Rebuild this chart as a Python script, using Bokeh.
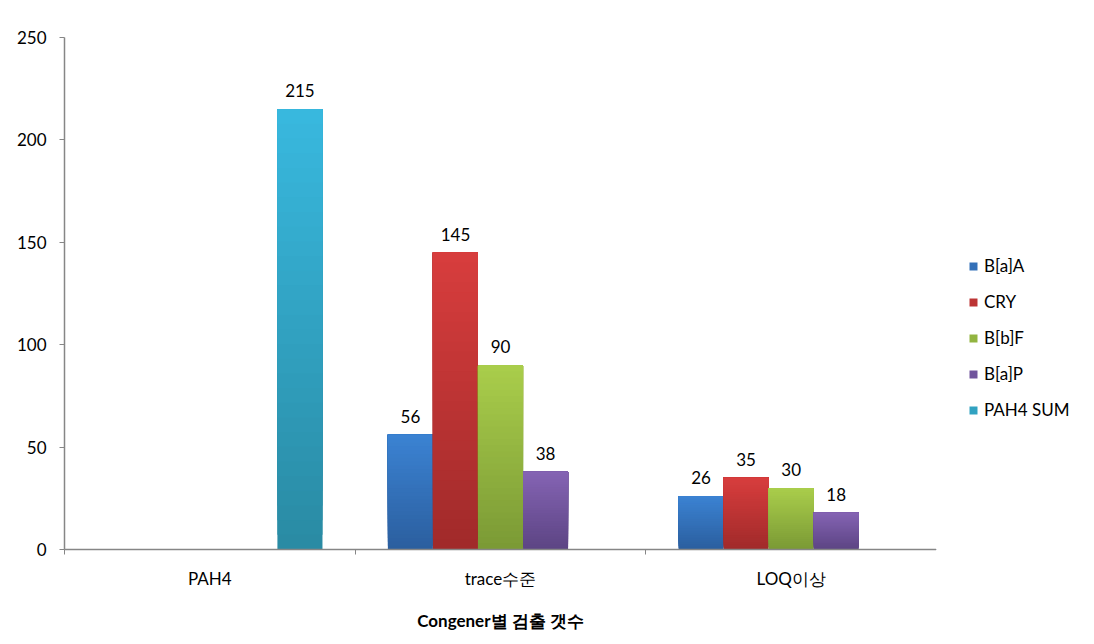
from bokeh.plotting import figure
from bokeh.models import (ColumnDataSource, Range1d, FixedTicker, LabelSet, Legend, LegendItem)
from bokeh.layouts import row
from bokeh.core.properties import value
from bokeh.embed import file_html
from bokeh.resources import INLINE

categories = ["PAH4", "trace수준", "LOQ이상"]
series = ["B[a]A", "CRY", "B[b]F", "B[a]P", "PAH4 SUM"]
values = {
    "B[a]A": [0, 56, 26],
    "CRY": [0, 145, 35],
    "B[b]F": [0, 90, 30],
    "B[a]P": [0, 38, 18],
    "PAH4 SUM": [215, 0, 0],
}
# (bottom colour, top colour) of each series' gradient
colors = {
    "B[a]A": ("#2b5f9f", "#3b82d2"),
    "CRY": ("#a12a2a", "#d73d3d"),
    "B[b]F": ("#7b9a35", "#a9cd4b"),
    "B[a]P": ("#5d4584", "#8463b3"),
    "PAH4 SUM": ("#2a8ba4", "#38b8de"),
}
y_ticks = [0, 50, 100, 150, 200, 250]

FONT = "Lato"
AXIS_GRAY = "#868686"

p = figure(width=936, height=644, output_backend="svg", toolbar_location=None,
           x_range=Range1d(0, len(categories)), y_range=Range1d(0, 250),
           min_border_left=64, min_border_right=0, min_border_top=37, min_border_bottom=95)
p.outline_line_color = None
p.xgrid.visible = False
p.ygrid.visible = False

# legend-only figure on the right
pl = figure(width=158, height=644, output_backend="svg", toolbar_location=None,
            x_range=Range1d(0, 1), y_range=Range1d(0, 1),
            min_border_left=0, min_border_right=0, min_border_top=0, min_border_bottom=0)
pl.outline_line_color = None
pl.axis.visible = False
pl.grid.visible = False

def hex2rgb(h):
    h = h.lstrip("#")
    return tuple(int(h[i:i + 2], 16) for i in (0, 2, 4))

def mix(c0, c1, t):
    a, b = hex2rgb(c0), hex2rgb(c1)
    return "#%02x%02x%02x" % tuple(round(a[i] + (b[i] - a[i]) * t) for i in range(3))

bar_w = 0.155
n_series = len(series)
N = 30
legend_items = []
lx, ly, lt = [], [], []
for si, s in enumerate(series):
    offset = (si - (n_series - 1) / 2) * bar_w
    xs, bots, tops, cols = [], [], [], []
    for ci, v in enumerate(values[s]):
        if v <= 0:
            continue
        xc = ci + 0.5 + offset
        for k in range(N):
            xs.append(xc)
            bots.append(v * k / N)
            tops.append(v)
            cols.append(mix(colors[s][0], colors[s][1], k / (N - 1)))
        lx.append(xc); ly.append(v); lt.append(str(v))
    src = ColumnDataSource(dict(x=xs, bottom=bots, top=tops, color=cols))
    p.vbar(x="x", bottom="bottom", top="top", width=bar_w, source=src,
           fill_color="color", line_color=None)
    mid = mix(colors[s][0], colors[s][1], 0.5)
    lr = pl.vbar(x=[-10], top=[-10], width=0.1, fill_color=mid, line_color=None)
    legend_items.append(LegendItem(label=s, renderers=[lr]))

lab_src = ColumnDataSource(dict(x=lx, y=ly, t=lt))
labels = LabelSet(x="x", y="y", text="t", source=lab_src, text_align="center",
                  text_baseline="bottom", y_offset=12, text_font=value(FONT),
                  text_font_size="17px", text_color="#000000")
p.add_layout(labels)

# axes
xa = p.xaxis[0]
xa.ticker = FixedTicker(ticks=[i + 0.5 for i in range(len(categories))],
                        minor_ticks=list(range(len(categories) + 1)))
xa.major_label_overrides = {i + 0.5: c for i, c in enumerate(categories)}
xa.major_tick_line_color = None
xa.minor_tick_line_color = AXIS_GRAY
xa.minor_tick_out = 5
xa.minor_tick_in = 0
xa.axis_line_color = AXIS_GRAY
xa.axis_line_width = 1.5
xa.major_label_standoff = 12
xa.major_label_text_font = FONT
xa.major_label_text_font_size = "17px"
xa.major_label_text_color = "#000000"
xa.axis_label = "Congener별 검출 갯수"
xa.axis_label_text_font = FONT
xa.axis_label_text_font_style = "bold"
xa.axis_label_text_font_size = "17px"
xa.axis_label_text_color = "#000000"
xa.axis_label_standoff = 18

ya = p.yaxis[0]
ya.ticker = FixedTicker(ticks=y_ticks, minor_ticks=[])
ya.major_tick_out = 5
ya.major_tick_in = 0
ya.major_tick_line_color = AXIS_GRAY
ya.axis_line_color = AXIS_GRAY
ya.axis_line_width = 1.5
ya.major_label_standoff = 13
ya.major_label_text_font = FONT
ya.major_label_text_font_size = "17px"
ya.major_label_text_color = "#000000"

legend = Legend(items=legend_items, location=(32, 129), orientation="vertical",
                border_line_color=None, background_fill_alpha=0,
                glyph_width=10, glyph_height=10, label_height=20, spacing=15,
                label_standoff=6, padding=0, margin=0,
                label_text_font=FONT, label_text_font_size="17px", label_text_color="#000000")
pl.add_layout(legend, "center")

layout = row(p, pl, spacing=0)
open("out.html", "w").write(file_html(layout, INLINE))
